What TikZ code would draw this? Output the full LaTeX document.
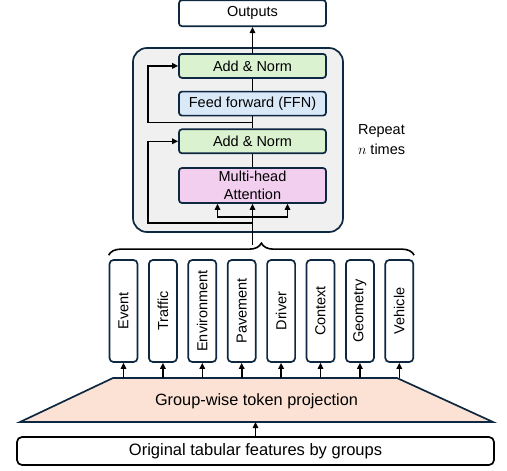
\documentclass[tikz,border=0pt]{standalone}
\usepackage{fontspec}
\setmainfont{Liberation Sans}
\usepackage{tikz}
\usetikzlibrary{arrows.meta,positioning,fit,backgrounds,decorations.pathreplacing}
\definecolor{edgeblue}{HTML}{0E2841}
\definecolor{normgreen}{HTML}{DAF2D0}
\definecolor{ffnblue}{HTML}{DAE9F8}
\definecolor{attpink}{HTML}{F2CEEF}
\definecolor{projpeach}{HTML}{FBE2D5}
\definecolor{blockgray}{HTML}{F0F0F0}

\begin{document}
\begin{tikzpicture}[x=1pt, y=-1pt, node distance=12pt and 9.7pt,
  every node/.style={font=\fontsize{14.5}{18}\selectfont},
  box/.style={draw=edgeblue, line width=1.7pt, rounded corners=3pt, align=center, minimum width=147pt, minimum height=24pt, inner sep=0pt},
  grp/.style={draw=edgeblue, line width=1.7pt, rounded corners=4pt, minimum width=28pt, minimum height=102pt, inner sep=0pt},
  blk/.style={draw=edgeblue, line width=1.7pt, rounded corners=14pt, fill=blockgray, inner sep=0pt},
  projshape/.style={draw=edgeblue, line width=1.7pt, fill=projpeach, line join=miter},
  inbox/.style={draw=black, line width=1.7pt, rounded corners=5pt, minimum width=477pt, minimum height=28pt, inner sep=0pt, font=\fontsize{16.5}{20}\selectfont},
  arr/.style={-{Triangle[length=6pt,width=5.5pt]}, line width=1.6pt},
  ln/.style={line width=1.6pt}]
\useasboundingbox (0,0) rectangle (507,471);
% encoder block
\node[box, fill=attpink, minimum height=35pt] (att) at (252.5,185.5) {Multi-head\\Attention};
\node[box, fill=normgreen, above=13pt of att] (an1) {Add \& Norm};
\node[box, fill=ffnblue, above=of an1] (ffn) {Feed forward (FFN)};
\node[box, fill=normgreen, above=of ffn] (an2) {Add \& Norm};
\node[box, minimum height=26pt, above=26pt of an2] (out) {Outputs};
\begin{scope}[on background layer]
\node[blk, fit={(133,48) (343,232)}] (rep) {};
\end{scope}
\node[right=14pt of rep, align=left, inner sep=0pt, font=\fontsize{14.5}{20}\selectfont] (reptxt) {Repeat\\$n$ times};
% feature groups
\node[grp] (g1) at (123.5,311) {\rotatebox{90}{Event}};
\node[grp, right=of g1] (g2) {\rotatebox{90}{Traffic}};
\node[grp, right=of g2] (g3) {\rotatebox{90}{Environment}};
\node[grp, right=of g3] (g4) {\rotatebox{90}{Pavement}};
\node[grp, right=of g4] (g5) {\rotatebox{90}{Driver}};
\node[grp, right=of g5] (g6) {\rotatebox{90}{Context}};
\node[grp, right=of g6] (g7) {\rotatebox{90}{Geometry}};
\node[grp, right=of g7] (g8) {\rotatebox{90}{Vehicle}};
% token projection
\coordinate (tl) at (113,378);
\coordinate (tr) at (397,378);
\coordinate (br) at (493,422);
\coordinate (bl) at (20,422);
\draw[projshape] (tl) -- (tr) -- (br) -- (bl) -- cycle;
\node[font=\fontsize{16.3}{20}\selectfont] (tok) at (256.5,401) {Group-wise token projection};
\node[inbox] (inp) at (255.5,451) {Original tabular features by groups};
% helper points
\path (att.south) ++(0,41) coordinate (tip);
\path (att.south) ++(0,13) coordinate (split);
\path (att.south) ++(0,19) coordinate (res1);
\path (an1.north) ++(0,-6) coordinate (res2);
\path (rep.west) ++(16,0) coordinate (lx);
% connectors
\draw[ln, decorate, decoration={brace, amplitude=12pt}] ([yshift=4pt]g1.north west) -- ([yshift=4pt]g8.north east);
\draw[arr] (tip) -- (att.south);
\draw[arr] (split) -| ([xshift=-35pt]att.south);
\draw[arr] (split) -| ([xshift=35pt]att.south);
\draw[arr] (res1) -- (res1 -| lx) |- (an1.west);
\draw[arr] (res2) -- (res2 -| lx) |- (an2.west);
\draw[ln] (att) -- (an1);
\draw[ln] (an1) -- (ffn);
\draw[ln] (ffn) -- (an2);
\draw[arr] (an2) -- (out);
\draw[arr] (g1.south |- tl) -- (g1.south);
\draw[arr] (g2.south |- tl) -- (g2.south);
\draw[arr] (g3.south |- tl) -- (g3.south);
\draw[arr] (g4.south |- tl) -- (g4.south);
\draw[arr] (g5.south |- tl) -- (g5.south);
\draw[arr] (g6.south |- tl) -- (g6.south);
\draw[arr] (g7.south |- tl) -- (g7.south);
\draw[arr] (g8.south |- tl) -- (g8.south);
\draw[arr] (inp.north) -- (inp.north |- bl);
\end{tikzpicture}
\end{document}
